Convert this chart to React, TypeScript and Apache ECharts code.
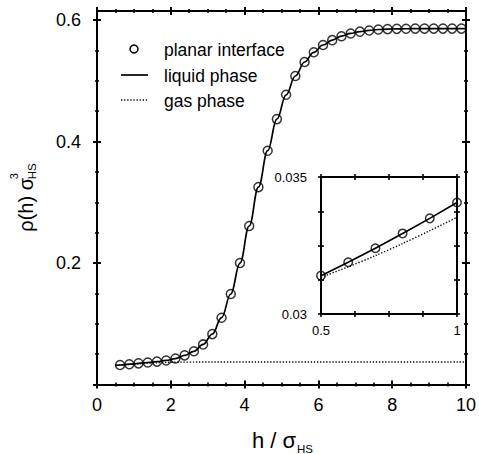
import React, { useEffect, useRef } from "react";
import * as echarts from "echarts";

// ---- data ----
const planarH = [0.625, 0.875, 1.125, 1.375, 1.625, 1.875, 2.125, 2.375, 2.625, 2.875, 3.125, 3.375, 3.625, 3.875, 4.125, 4.375, 4.625, 4.875, 5.125, 5.375, 5.625, 5.875, 6.125, 6.375, 6.625, 6.875, 7.125, 7.375, 7.625, 7.875, 8.125, 8.375, 8.625, 8.875, 9.125, 9.375, 9.625, 9.875];
const planarRho = [0.0321, 0.0334, 0.0348, 0.0362, 0.0377, 0.0396, 0.0427, 0.048, 0.0547, 0.066, 0.083, 0.11, 0.149, 0.2, 0.261, 0.325, 0.385, 0.437, 0.477, 0.508, 0.531, 0.547, 0.559, 0.567, 0.5735, 0.578, 0.581, 0.583, 0.5845, 0.5852, 0.5856, 0.5858, 0.586, 0.586, 0.586, 0.586, 0.586, 0.586];

const liquidH = [0.5, 0.625, 0.875, 1.125, 1.375, 1.625, 1.875, 2.125, 2.375, 2.625, 2.875, 3.125, 3.375, 3.625, 3.875, 4.125, 4.375, 4.625, 4.875, 5.125, 5.375, 5.625, 5.875, 6.125, 6.375, 6.625, 6.875, 7.125, 7.375, 7.625, 7.875, 8.125, 8.375, 8.625, 8.875, 9.125, 9.375, 9.625, 9.875, 10];
const liquidRho = [0.0314, 0.0321, 0.0334, 0.0348, 0.0362, 0.0377, 0.0396, 0.0427, 0.048, 0.0547, 0.066, 0.083, 0.11, 0.149, 0.2, 0.261, 0.325, 0.385, 0.437, 0.477, 0.508, 0.531, 0.547, 0.559, 0.567, 0.5735, 0.578, 0.581, 0.583, 0.5845, 0.5852, 0.5856, 0.5858, 0.586, 0.586, 0.586, 0.586, 0.586, 0.586, 0.586];

const gasH = [0.5, 0.75, 1.0, 1.25, 1.5, 1.75, 2.0, 2.5, 3.0, 10];
const gasRho = [0.0313, 0.0324, 0.0335, 0.0345, 0.0354, 0.0361, 0.0366, 0.0369, 0.037, 0.037];

const insetH = [0.5, 0.6, 0.7, 0.8, 0.9, 1.0];
const insetPlanar = [0.0314, 0.03189, 0.0324, 0.03294, 0.03349, 0.03407];
const insetLiquid = [0.0314, 0.03189, 0.0324, 0.03294, 0.03349, 0.03407];
const insetGas = [0.03134, 0.03172, 0.03213, 0.03257, 0.03304, 0.03353];

const mainXMajor = [0, 2, 4, 6, 8, 10];
const mainXMinor = [0.5, 1, 1.5, 2.5, 3, 3.5, 4.5, 5, 5.5, 6.5, 7, 7.5, 8.5, 9, 9.5];
const mainYMajor = [0, 0.2, 0.4, 0.6];
const mainYLabels = [0.2, 0.4, 0.6];
const mainYMinor = [0.05, 0.1, 0.15, 0.25, 0.3, 0.35, 0.45, 0.5, 0.55];
const insetXTicks = [0.5, 0.625, 0.75, 0.875, 1.0];
const insetXLabels = [0.5, 1.0];
const insetYTicks = [0.03, 0.03125, 0.0325, 0.03375, 0.035];
const insetYLabels = [0.03, 0.035];

const FONT = '"Liberation Sans", Arial, Helvetica, sans-serif';
const BLACK = "#000";

const zip = (xs: number[], ys: number[]) => xs.map((x, i) => [x, ys[i]]);

function axis(o: any) {
  const {
    gridIndex, position, min, max, inside, line, labels, tickLen, tickW,
    tickValues, labelValues, fontSize, margin, labelFmt,
  } = o;
  const a: any = {
    type: "value",
    gridIndex,
    position,
    min,
    max,
    axisLine: { show: !!line, onZero: false, lineStyle: { color: BLACK, width: 2 } },
    axisTick: { show: true, inside, length: tickLen, lineStyle: { color: BLACK, width: tickW } },
    axisLabel: {
      show: !!labels,
      color: BLACK,
      fontSize,
      fontFamily: FONT,
      margin,
    },
    splitLine: { show: false },
  };
  if (tickValues) a.axisTick.customValues = tickValues;
  if (labelValues) a.axisLabel.customValues = labelValues;
  if (labelFmt) a.axisLabel.formatter = labelFmt;
  return a;
}

export default function App() {
  const ref = useRef<HTMLDivElement>(null);
  useEffect(() => {
    document.body.style.margin = "0";
    if (!ref.current) return;
    const chart = echarts.init(ref.current, null, { renderer: "svg" });

    const mx = { gridIndex: 0, min: 0, max: 10, fontSize: 18, margin: 11 };
    const my = { gridIndex: 0, min: 0, max: 0.615, fontSize: 18, margin: 16 };
    const ix = { gridIndex: 1, min: 0.5, max: 1, tickLen: 3, tickW: 1.6, fontSize: 13, margin: 10, tickValues: insetXTicks };
    const iy = { gridIndex: 1, min: 0.03, max: 0.035, tickLen: 3, tickW: 1.6, fontSize: 13, margin: 14, tickValues: insetYTicks };
    const maj = { tickLen: 4, tickW: 2 };
    const mnr = { tickLen: 2, tickW: 1.6 };

    const xAxis = [
      axis({ ...mx, ...maj, position: "bottom", inside: false, line: true, labels: true, tickValues: mainXMajor, labelValues: mainXMajor }),
      axis({ ...mx, ...maj, position: "bottom", inside: true, tickValues: mainXMajor }),
      axis({ ...mx, ...mnr, position: "bottom", inside: false, tickValues: mainXMinor }),
      axis({ ...mx, ...mnr, position: "bottom", inside: true, tickValues: mainXMinor }),
      axis({ ...mx, ...maj, position: "top", inside: false, line: true, tickValues: mainXMajor }),
      axis({ ...mx, ...maj, position: "top", inside: true, tickValues: mainXMajor }),
      axis({ ...mx, ...mnr, position: "top", inside: false, tickValues: mainXMinor }),
      axis({ ...mx, ...mnr, position: "top", inside: true, tickValues: mainXMinor }),
      axis({ ...ix, position: "bottom", inside: false, line: true, labels: true, labelValues: insetXLabels, labelFmt: (v: number) => (v === 1 ? "1" : String(v)) }),
      axis({ ...ix, position: "bottom", inside: true }),
      axis({ ...ix, position: "top", inside: true, line: true }),
      axis({ ...ix, position: "top", inside: false }),
    ];
    const yAxis = [
      axis({ ...my, ...maj, position: "left", inside: false, line: true, labels: true, tickValues: mainYMajor, labelValues: mainYLabels, labelFmt: (v: number) => v.toFixed(1) }),
      axis({ ...my, ...maj, position: "left", inside: true, tickValues: mainYMajor }),
      axis({ ...my, ...mnr, position: "left", inside: false, tickValues: mainYMinor }),
      axis({ ...my, ...mnr, position: "left", inside: true, tickValues: mainYMinor }),
      axis({ ...my, ...maj, position: "right", inside: false, line: true, tickValues: mainYMajor }),
      axis({ ...my, ...maj, position: "right", inside: true, tickValues: mainYMajor }),
      axis({ ...my, ...mnr, position: "right", inside: false, tickValues: mainYMinor }),
      axis({ ...my, ...mnr, position: "right", inside: true, tickValues: mainYMinor }),
      axis({ ...iy, position: "left", inside: false, line: true, labels: true, labelValues: insetYLabels, labelFmt: (v: number) => (Math.abs(v - 0.03) < 1e-7 ? "0.03" : "0.035") }),
      axis({ ...iy, position: "left", inside: true }),
      axis({ ...iy, position: "right", inside: false, line: true }),
      axis({ ...iy, position: "right", inside: true }),
    ];

    const circleStyle = { color: "rgba(0,0,0,0)", borderColor: BLACK, borderWidth: 1.5 };

    const option: any = {
      animation: false,
      backgroundColor: "#fff",
      grid: [
        { left: 97, right: 10, top: 11, bottom: 69.5, containLabel: false },
        { left: 321, top: 177, width: 136, height: 137, containLabel: false },
      ],
      xAxis,
      yAxis,
      series: [
        {
          name: "liquid phase", type: "line", xAxisIndex: 0, yAxisIndex: 0,
          data: zip(liquidH, liquidRho), showSymbol: false, symbol: "none",
          smooth: 0.4, smoothMonotone: "x",
          lineStyle: { color: BLACK, width: 1.7 }, z: 2,
        },
        {
          name: "gas phase", type: "line", xAxisIndex: 0, yAxisIndex: 0,
          data: zip(gasH, gasRho), showSymbol: false, symbol: "none",
          smooth: 0.4, smoothMonotone: "x",
          lineStyle: { color: BLACK, width: 1.4, type: [1.3, 1.8] }, z: 2,
        },
        {
          name: "planar interface", type: "scatter", xAxisIndex: 0, yAxisIndex: 0,
          data: zip(planarH, planarRho), symbol: "circle", symbolSize: 9,
          itemStyle: circleStyle, z: 3,
        },
        {
          name: "liquid phase (inset)", type: "line", xAxisIndex: 8, yAxisIndex: 8,
          data: zip(insetH, insetLiquid), showSymbol: false, symbol: "none",
          lineStyle: { color: BLACK, width: 1.7 }, z: 2,
        },
        {
          name: "gas phase (inset)", type: "line", xAxisIndex: 8, yAxisIndex: 8,
          data: zip(insetH, insetGas), showSymbol: false, symbol: "none",
          smooth: 0.3,
          lineStyle: { color: BLACK, width: 1.4, type: [1.3, 1.8] }, z: 2,
        },
        {
          name: "planar interface (inset)", type: "scatter", xAxisIndex: 8, yAxisIndex: 8,
          data: zip(insetH, insetPlanar), symbol: "circle", symbolSize: 8.5,
          itemStyle: circleStyle, z: 3,
        },
      ],
      graphic: [
        { type: "circle", shape: { cx: 134, cy: 49, r: 4 }, style: { fill: "none", stroke: BLACK, lineWidth: 1.5 } },
        { type: "text", x: 164, y: 50, style: { text: "planar interface", fontSize: 17.5, fontFamily: FONT, fill: BLACK, align: "left", verticalAlign: "middle" } },
        { type: "line", shape: { x1: 121, y1: 75, x2: 148, y2: 75 }, style: { stroke: BLACK, lineWidth: 1.7 } },
        { type: "text", x: 164, y: 75.5, style: { text: "liquid phase", fontSize: 17.5, fontFamily: FONT, fill: BLACK, align: "left", verticalAlign: "middle" } },
        { type: "line", shape: { x1: 121, y1: 100, x2: 148, y2: 100 }, style: { stroke: BLACK, lineWidth: 1.4, lineDash: [1.3, 1.8] } },
        { type: "text", x: 164, y: 100.5, style: { text: "gas phase", fontSize: 17.5, fontFamily: FONT, fill: BLACK, align: "left", verticalAlign: "middle" } },
        { type: "text", x: 252, y: 440.7, style: { text: "h / σ", fontSize: 22, fontFamily: FONT, fill: BLACK, align: "left", verticalAlign: "middle" } },
        { type: "text", x: 297, y: 449, style: { text: "HS", fontSize: 11.5, fontFamily: FONT, fill: BLACK, align: "left", verticalAlign: "middle" } },
        {
          type: "group", x: 25.7, y: 231.7, rotation: Math.PI / 2,
          children: [
            { type: "text", x: 0, y: 0, style: { text: "ρ(h) σ", fontSize: 20, fontFamily: FONT, fill: BLACK, align: "left", verticalAlign: "middle" } },
            { type: "text", x: 52.5, y: -12.2, style: { text: "3", fontSize: 11, fontFamily: FONT, fill: BLACK, align: "left", verticalAlign: "middle" } },
            { type: "text", x: 52.5, y: 6.5, style: { text: "HS", fontSize: 11.5, fontFamily: FONT, fill: BLACK, align: "left", verticalAlign: "middle" } },
          ],
        },
      ],
    };
    chart.setOption(option);
    return () => chart.dispose();
  }, []);
  return <div ref={ref} style={{ width: 479, height: 454 }} />;
}
